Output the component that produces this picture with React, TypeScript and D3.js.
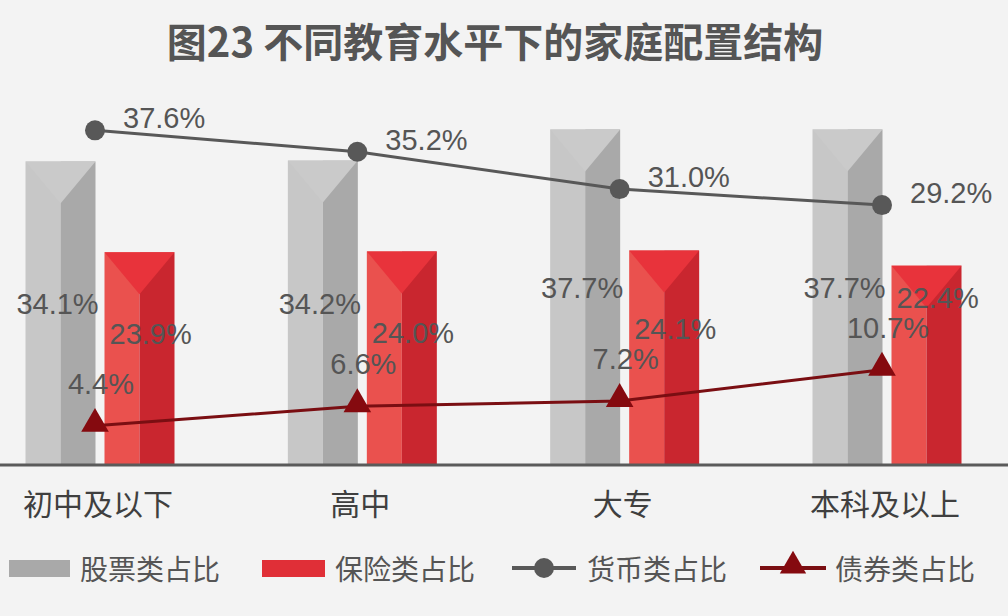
import React from "react";
import * as d3 from "d3";

const categories = ["初中及以下", "高中", "大专", "本科及以上"];
const stockShare = [34.1, 34.2, 37.7, 37.7];
const insuranceShare = [23.9, 24.0, 24.1, 22.4];
const currencyShare = [37.6, 35.2, 31.0, 29.2];
const bondShare = [4.4, 6.6, 7.2, 10.7];
const legendLabels = ["股票类占比", "保险类占比", "货币类占比", "债券类占比"];
const title = "图23 不同教育水平下的家庭配置结构";

const W = 1008;
const H = 616;
const FONT = "'Liberation Sans', Arial, 'Noto Sans CJK SC', sans-serif";
const CJK = "'Noto Sans CJK SC', 'Liberation Sans', sans-serif";

function Bar3D({ x, w, top, base, cols }: { x: number; w: number; top: number; base: number; cols: [string, string, string] }) {
  const xm = x + w / 2;
  const d = Math.min(42, (base - top) * 0.5);
  return (
    <g>
      <rect x={x} y={top} width={w / 2} height={base - top} fill={cols[0]} />
      <rect x={xm} y={top} width={w / 2} height={base - top} fill={cols[1]} />
      <polygon points={`${x},${top} ${x + w},${top} ${xm},${top + d}`} fill={cols[2]} />
    </g>
  );
}

export default function App() {
  const x = d3.scalePoint<string>().domain(categories).range([100, 887]);
  const y = d3.scaleLinear().domain([0, 50]).range([465, 20]);
  const base = y(0);
  const bw = 70;
  const gap = 9;
  const grayCols: [string, string, string] = ["#c7c7c7", "#a9a9a9", "#cacaca"];
  const redCols: [string, string, string] = ["#ea514e", "#c9262f", "#e8333b"];
  const markerOff = -5;

  const curLine = d3
    .line<number>()
    .x((_, i) => (x(categories[i]) as number) + markerOff)
    .y((v) => y(v));
  const tri = d3.symbol().type(d3.symbolTriangle).size(330)();
  const triLegend = d3.symbol().type(d3.symbolTriangle).size(300)();

  const labelStyle = { fontFamily: FONT, fontSize: 29, fill: "#555" } as React.CSSProperties;
  const legendStyle = { fontFamily: CJK, fontSize: 28, fill: "#555" } as React.CSSProperties;

  return (
    <svg width={W} height={H} style={{ position: "absolute", left: 0, top: 0, background: "#f3f3f3" }}>
      <rect x={0} y={0} width={W} height={H} fill="#f3f3f3" />
      <text x={495} y={57} textAnchor="middle" style={{ fontFamily: CJK, fontSize: 40, fontWeight: 700, fill: "#555" }}>
        {title}
      </text>

      {categories.map((c, i) => {
        const cx = x(c) as number;
        return (
          <g key={c}>
            <Bar3D x={cx - gap / 2 - bw} w={bw} top={y(stockShare[i])} base={base} cols={grayCols} />
            <Bar3D x={cx + gap / 2} w={bw} top={y(insuranceShare[i])} base={base} cols={redCols} />
          </g>
        );
      })}

      <line x1={0} x2={W} y1={base} y2={base} stroke="#5a5a5a" strokeWidth={3} />

      <path d={curLine(currencyShare) || ""} fill="none" stroke="#585858" strokeWidth={3} />
      {currencyShare.map((v, i) => (
        <circle key={i} cx={(x(categories[i]) as number) + markerOff} cy={y(v)} r={10} fill="#585858" />
      ))}
      <path d={curLine(bondShare) || ""} fill="none" stroke="#7a0e12" strokeWidth={3} />
      {bondShare.map((v, i) => (
        <path key={i} d={tri || ""} transform={`translate(${(x(categories[i]) as number) + markerOff},${y(v) - 2})`} fill="#850a0f" />
      ))}

      {categories.map((c, i) => {
        const cx = x(c) as number;
        const mx = cx + markerOff;
        const bondY = y(bondShare[i]) - 42;
        const redY = Math.min(y(insuranceShare[i]) + 82, bondY - 30);
        const grayY = (y(stockShare[i]) + base) / 2 - 9;
        return (
          <g key={c}>
            <text x={cx - gap / 2 - bw / 2 - 3} y={grayY} textAnchor="middle" dominantBaseline="central" style={labelStyle}>
              {stockShare[i].toFixed(1)}%
            </text>
            <text x={cx + gap / 2 + 5} y={redY} textAnchor="start" dominantBaseline="central" style={labelStyle}>
              {insuranceShare[i].toFixed(1)}%
            </text>
            <text x={mx + 6} y={bondY} textAnchor="middle" dominantBaseline="central" style={labelStyle}>
              {bondShare[i].toFixed(1)}%
            </text>
            <text x={mx + 28} y={y(currencyShare[i]) - 12} textAnchor="start" dominantBaseline="central" style={labelStyle}>
              {currencyShare[i].toFixed(1)}%
            </text>
            <text x={cx - 2} y={502} textAnchor="middle" dominantBaseline="central" style={{ fontFamily: CJK, fontSize: 30, fill: "#3f3f3f" }}>
              {c}
            </text>
          </g>
        );
      })}

      <g>
        <rect x={9} y={560} width={61} height={17} fill="#a9a9a9" />
        <text x={80} y={568} dominantBaseline="central" style={legendStyle}>{legendLabels[0]}</text>
        <rect x={262} y={560} width={63} height={17} fill="#e02f37" />
        <text x={335} y={568} dominantBaseline="central" style={legendStyle}>{legendLabels[1]}</text>
        <line x1={512} x2={576} y1={568} y2={568} stroke="#585858" strokeWidth={4} />
        <circle cx={544} cy={568} r={10} fill="#585858" />
        <text x={587} y={568} dominantBaseline="central" style={legendStyle}>{legendLabels[2]}</text>
        <line x1={760} x2={826} y1={568} y2={568} stroke="#7a0e12" strokeWidth={4} />
        <path d={triLegend || ""} transform="translate(793,566)" fill="#850a0f" />
        <text x={835} y={568} dominantBaseline="central" style={legendStyle}>{legendLabels[3]}</text>
      </g>
    </svg>
  );
}
